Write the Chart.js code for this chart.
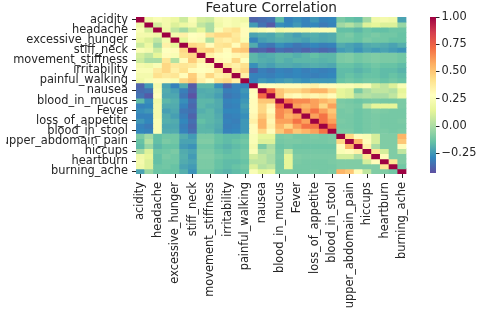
<!DOCTYPE html>
<html>
<head>
<meta charset="utf-8">
<script src="https://cdn.jsdelivr.net/npm/chart.js@4/dist/chart.umd.min.js"></script>
<style>
  body { margin: 0; background: #fff; width: 480px; height: 314px; overflow: hidden; position: relative; }
  #heat { position: absolute; left: 0; top: 0; }
  #cbar { position: absolute; left: 418px; top: 0; }
</style>
</head>
<body>
<canvas id="heat" width="420" height="314"></canvas>
<canvas id="cbar" width="62" height="314"></canvas>
<script>
// feature names (only every other one is readable in the picture)
const features = ['acidity', '', 'headache', '', 'excessive_hunger', '', 'stiff_neck', '',
  'movement_stiffness', '', 'irritability', '', 'painful_walking', '', 'nausea', '',
  'blood_in_mucus', '', 'Fever', '', 'loss_of_appetite', '', 'blood_in_stool', '',
  'upper_abdomain_pain', '', 'hiccups', '', 'heartburn', '', 'burning_ache'];

// correlation matrix, upper triangle: row i holds columns i..30
const corrUpper = [
  [1, .20, .25, .22, .18, .08, .25, .10, .08, .22, .25, .22, .20, -.38, -.36, -.34, -.16, -.30, -.27, -.30, -.25, -.30, -.29, -.10, -.14, -.16, -.02, .20, .22, .20, -.22],
  [1, .10, .22, .12, .18, .22, .05, .00, .20, .25, .22, .25, -.24, -.34, -.40, -.27, -.29, -.25, -.30, -.29, -.32, -.30, -.02, .02, -.04, .12, .15, .12, .12, -.04],
  [1, .20, .05, -.02, .08, .15, .00, .25, .38, .42, .30, .22, .25, .28, .20, .22, .22, .22, .25, .25, .25, -.15, -.15, -.17, -.13, -.15, -.15, -.13, -.13],
  [1, .22, .35, .28, .30, .40, .45, .45, .38, .30, -.22, -.20, -.21, -.17, -.20, -.23, -.20, -.19, -.21, -.20, -.12, -.10, -.14, -.12, -.10, -.12, -.12, -.14],
  [1, .15, .30, .25, .02, .38, .35, .40, .25, -.30, -.23, -.21, -.19, -.20, -.21, -.23, -.20, -.21, -.20, -.12, -.12, -.14, -.10, -.12, -.12, -.14, -.14],
  [1, .45, .42, .30, .40, .42, .30, .45, -.20, -.31, -.33, -.27, -.30, -.33, -.31, -.29, -.31, -.30, -.20, -.22, -.24, -.20, -.19, -.20, -.22, -.19],
  [1, .45, .48, .38, .30, .48, .50, -.40, -.38, -.42, -.35, -.37, -.35, -.38, -.35, -.37, -.35, -.24, -.22, -.26, -.22, -.24, -.22, -.24, -.26],
  [1, .35, .30, .28, .32, .35, -.17, -.20, -.19, -.17, -.17, -.19, -.17, -.15, -.17, -.17, -.10, -.09, -.12, -.10, -.09, -.10, -.10, -.12],
  [1, .32, .30, .45, .28, -.17, -.19, -.20, -.17, -.19, -.17, -.17, -.17, -.18, -.17, -.10, -.09, -.12, -.10, -.09, -.10, -.10, -.12],
  [1, .40, .35, .42, -.27, -.21, -.23, -.20, -.20, -.21, -.20, -.19, -.20, -.21, -.14, -.14, -.16, -.14, -.12, -.14, -.14, -.16],
  [1, .38, .45, -.38, -.31, -.33, -.30, -.31, -.29, -.31, -.30, -.31, -.30, -.16, -.16, -.18, -.16, -.14, -.16, -.16, -.18],
  [1, .35, -.30, -.30, -.31, -.29, -.30, -.29, -.30, -.31, -.30, -.29, -.16, -.14, -.16, -.14, -.14, -.16, -.14, -.16],
  [1, -.30, -.25, -.27, -.25, -.23, -.25, -.27, -.25, -.25, -.25, -.14, -.12, -.14, -.12, -.12, -.14, -.12, -.14],
  [1, .30, .28, .30, .30, .30, .32, .35, .30, .30, .25, .25, .22, .25, .10, .05, .12, .25],
  [1, .72, .50, .45, .45, .50, .55, .55, .45, .15, .12, -.10, .00, .05, .05, .02, .15],
  [1, .50, .33, .30, .35, .32, .35, .30, .15, .12, .00, .02, .00, .00, .05, .18],
  [1, .70, .65, .65, .60, .55, .50, -.10, -.11, -.13, -.11, -.10, -.11, -.11, -.10],
  [1, .60, .55, .60, .45, .60, -.09, -.10, -.11, .05, .15, .15, .15, -.10],
  [1, .60, .70, .60, .50, -.11, -.10, -.13, -.11, -.09, -.10, -.11, -.11],
  [1, .60, .70, .55, -.11, -.11, -.13, -.11, -.10, -.11, -.11, -.11],
  [1, .70, .60, -.10, -.11, -.13, -.11, -.10, -.11, -.11, -.10],
  [1, .70, -.11, -.11, -.13, -.11, -.10, -.11, -.11, -.11],
  [1, -.10, -.10, -.13, -.11, -.10, -.10, -.11, -.10],
  [1, .45, .30, .25, .10, -.09, -.09, .55],
  [1, .55, .30, .10, -.09, -.09, .50],
  [1, .35, .00, -.09, -.09, .30],
  [1, .40, .10, -.09, .05],
  [1, .30, -.09, -.09],
  [1, .40, -.09],
  [1, -.12],
  [1]
];

const cbarTicks = [-0.25, 0, 0.25, 0.5, 0.75, 1];
const VMIN = -0.43, VMAX = 1;

// Spectral_r
const spectral = ['#5e4fa2', '#3288bd', '#66c2a5', '#abdda4', '#e6f598', '#ffffbf',
  '#fee08b', '#fdae61', '#f46d43', '#d53e4f', '#9e0142'];

function hexRgb(h) {
  return [1, 3, 5].map(k => parseInt(h.substr(k, 2), 16));
}
function colorFor(v) {
  let t = (v - VMIN) / (VMAX - VMIN);
  t = Math.max(0, Math.min(1, t)) * 10;
  const k = Math.min(9, Math.floor(t));
  const f = t - k;
  const a = hexRgb(spectral[k]), b = hexRgb(spectral[k + 1]);
  const c = a.map((x, n) => Math.round(x + (b[n] - x) * f));
  return 'rgb(' + c.join(',') + ')';
}

const corr = features.map((_, i) => features.map((_, j) =>
  i <= j ? corrUpper[i][j - i] : corrUpper[j][i - j]));

const font = { family: 'DejaVu Sans', size: 11.4 };
const tickCol = '#262626';

const datasets = corr.map((row, i) => ({
  label: 'row ' + i,
  data: row.map(() => 1),
  backgroundColor: row.map(colorFor),
  borderWidth: 0,
  barPercentage: 1,
  categoryPercentage: 1
}));

new Chart(document.getElementById('heat'), {
  type: 'bar',
  data: { labels: features, datasets: datasets },
  options: {
    responsive: false,
    animation: false,
    devicePixelRatio: 1,
    layout: { padding: { left: 6, right: 8.7, top: 0, bottom: 0 } },
    plugins: {
      legend: { display: false },
      tooltip: { enabled: false },
      title: {
        display: true,
        text: 'Feature Correlation',
        fullSize: false,
        color: tickCol,
        font: { family: 'DejaVu Sans', size: 13.7, weight: 'normal' },
        padding: { top: 0, bottom: 0.6 }
      }
    },
    scales: {
      x: {
        stacked: true,
        offset: true,
        border: { display: false },
        grid: {
          offset: false,
          drawOnChartArea: false,
          tickLength: 4,
          color: c => c.index % 2 ? 'rgba(0,0,0,0)' : tickCol
        },
        ticks: { autoSkip: false, minRotation: 90, maxRotation: 90, padding: 4, color: tickCol, font: font },
        afterFit: s => { s.height = 140; }
      },
      y: {
        stacked: true,
        min: 0,
        max: 31,
        reverse: true,
        border: { display: false },
        grid: { drawOnChartArea: false, tickLength: 4, color: tickCol },
        afterBuildTicks: s => {
          s.ticks = features.map((n, i) => ({ value: i + 0.5 })).filter((t, i) => i % 2 === 0);
        },
        ticks: {
          autoSkip: false,
          padding: 4,
          color: tickCol,
          font: font,
          callback: v => features[Math.round(v - 0.5)]
        },
        afterFit: s => { s.width = 130; }
      }
    }
  }
});

// colour bar
new Chart(document.getElementById('cbar'), {
  type: 'bar',
  data: {
    labels: [''],
    datasets: [{
      data: [[VMIN, VMAX]],
      borderWidth: 0,
      barPercentage: 1,
      categoryPercentage: 1,
      backgroundColor: c => {
        const a = c.chart.chartArea;
        if (!a) return null;
        const g = c.chart.ctx.createLinearGradient(0, a.bottom, 0, a.top);
        spectral.forEach((col, k) => g.addColorStop(k / 10, col));
        return g;
      }
    }]
  },
  options: {
    responsive: false,
    animation: false,
    devicePixelRatio: 1,
    layout: { padding: { left: 12, right: 0, top: 17, bottom: 141 } },
    plugins: { legend: { display: false }, tooltip: { enabled: false } },
    scales: {
      x: { display: false },
      y: {
        position: 'right',
        min: VMIN,
        max: VMAX,
        border: { display: false },
        grid: { drawOnChartArea: false, tickLength: 3.5, color: tickCol },
        afterBuildTicks: s => { s.ticks = cbarTicks.map(v => ({ value: v })); },
        ticks: {
          padding: 2,
          color: tickCol,
          font: font,
          callback: v => (v < 0 ? '\u2212' : '') + Math.abs(v).toFixed(2)
        },
        afterFit: s => { s.width = 44; }
      }
    }
  }
});
</script>
</body>
</html>
